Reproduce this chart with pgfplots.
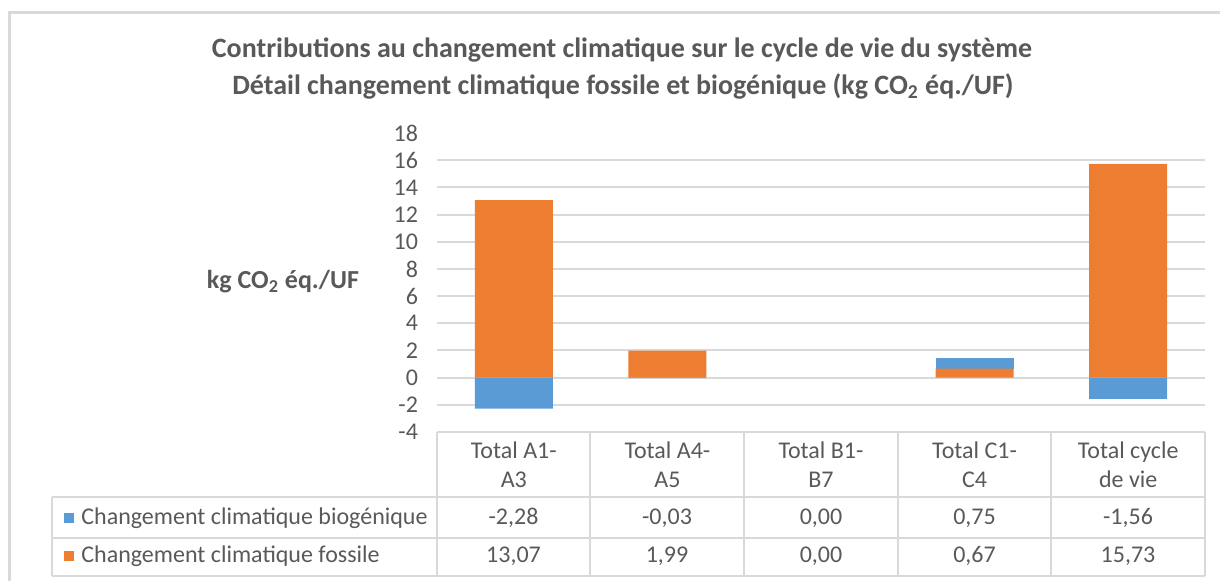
\documentclass[border=0pt]{standalone}
\usepackage{fontspec}
\setmainfont{Carlito}
\usepackage{pgfplots}
\pgfplotsset{compat=1.18}
\definecolor{cblue}{HTML}{5B9BD5}
\definecolor{corange}{HTML}{ED7D31}
\definecolor{ctext}{HTML}{595959}
\definecolor{cgrid}{HTML}{D9D9D9}
\tikzset{px/.style={x=0.5pt,y=-0.5pt,shift={(-218.5pt,216pt)}}}
\begin{document}
\begin{tikzpicture}
% positive contributions (stacked)
\begin{axis}[
  at={(0pt,0pt)}, anchor=south west,
  scale only axis, width=384pt, height=149.5pt,
  xmin=-0.5, xmax=4.5, ymin=-4, ymax=18,
  ybar stacked, bar width=39pt,
  ytick={-4,-2,...,18},
  extra y ticks={-2,0,...,16}, extra y tick labels={},
  extra y tick style={grid=major},
  major grid style={cgrid, line width=1pt},
  xtick={0,1,2,3,4},
  xticklabels={{Total A1-\\A3},{Total A4-\\A5},{Total B1-\\B7},{Total C1-\\C4},{Total cycle\\de vie}},
  xticklabel style={align=center, anchor=center, yshift=-16.5pt, font=\fontsize{12}{14.5}\selectfont},
  axis line style={draw=none},
  major tick length=0pt,
  tick label style={font=\fontsize{12}{14}\selectfont, text=ctext},
  yticklabel style={xshift=-6pt},
  /pgf/number format/assume math mode=true,
]
\addplot[fill=corange, draw=none] coordinates {(0,13.07) (1,1.99) (2,0) (3,0.67) (4,15.73)};
\addplot[fill=cblue, draw=none] coordinates {(0,0) (1,0) (2,0) (3,0.75) (4,0)};
\end{axis}
% negative contributions
\begin{axis}[
  at={(0pt,0pt)}, anchor=south west,
  scale only axis, width=384pt, height=149.5pt,
  xmin=-0.5, xmax=4.5, ymin=-4, ymax=18,
  ybar stacked, bar width=39pt, hide axis,
]
\addplot[fill=cblue, draw=none] coordinates {(0,-2.28) (1,-0.03) (2,0) (3,0) (4,-1.56)};
\end{axis}
\begin{scope}[px]
% outer frame
\draw[cgrid, line width=1.5pt] (9.5,600) -- (9.5,12.5) -- (1240,12.5);
% titles
\node[text=ctext, font=\fontsize{14}{16}\selectfont\bfseries] at (622,50) {Contributions au changement climatique sur le cycle de vie du système};
\node[text=ctext, font=\fontsize{14}{16}\selectfont\bfseries] at (623,86) {Détail changement climatique fossile et biogénique (kg CO\textsubscript{2} éq./UF)};
\node[text=ctext, font=\fontsize{13}{15}\selectfont\bfseries] at (283,282) {kg CO\textsubscript{2} éq./UF};
% data table
\draw[cgrid, line width=1pt] (437,432) -- (1205,432);
\foreach \yy in {497,538,576} \draw[cgrid, line width=1pt] (52,\yy) -- (1205,\yy);
\foreach \xx in {437,590,744,898,1051,1205} \draw[cgrid, line width=1pt] (\xx,432) -- (\xx,576);
\draw[cgrid, line width=1pt] (52,497) -- (52,576);
\fill[cblue] (64,513) rectangle (74,523);
\fill[corange] (64,551) rectangle (74,561);
\begin{scope}[every node/.style={text=ctext, font=\fontsize{12}{14}\selectfont}]
\node[anchor=west, inner sep=0pt] at (81,518) {Changement climatique biogénique};
\node[anchor=west, inner sep=0pt] at (81,556) {Changement climatique fossile};
\node at (513.5,518) {-2,28};
\node at (667,518) {-0,03};
\node at (821,518) {0,00};
\node at (974.5,518) {0,75};
\node at (1128,518) {-1,56};
\node at (513.5,556) {13,07};
\node at (667,556) {1,99};
\node at (821,556) {0,00};
\node at (974.5,556) {0,67};
\node at (1128,556) {15,73};
\end{scope}
\end{scope}
\pgfresetboundingbox
\path[px, use as bounding box] (0,0) rectangle (1220,580);
\end{tikzpicture}
\end{document}
